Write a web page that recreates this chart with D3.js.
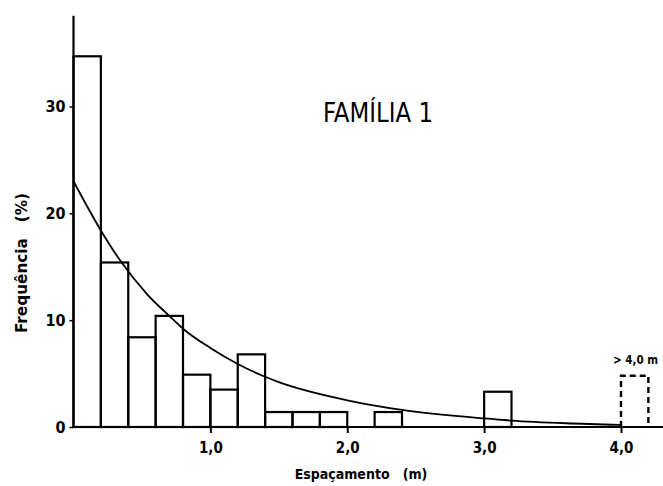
<!DOCTYPE html>
<html>
<head>
<meta charset="utf-8">
<script src="https://cdn.jsdelivr.net/npm/d3@7"></script>
<style>
  html, body { margin: 0; padding: 0; background: #fff; }
  svg { display: block; }
  text { fill: #000; }
</style>
</head>
<body>
<svg id="chart" width="663" height="486"></svg>
<script>
// ---- data ----
const binStarts = [0.0, 0.2, 0.4, 0.6, 0.8, 1.0, 1.2, 1.4, 1.6, 1.8, 2.0, 2.2, 2.4, 2.6, 2.8, 3.0, 3.2, 3.4, 3.6, 3.8];
const frequencies = [34.7, 15.4, 8.4, 10.4, 4.9, 3.5, 6.8, 1.4, 1.4, 1.4, 0, 1.4, 0, 0, 0, 3.3, 0, 0, 0, 0];
const binWidth = 0.2;
const overflowBin = { start: 4.0, value: 4.8, label: "> 4,0 m" };
const curveX = [0.0, 0.2, 0.34, 0.54, 0.7, 0.8, 1.0, 1.2, 1.4, 1.5, 2.0, 2.4, 3.0, 3.2, 3.6, 4.0];
const curveY = [23.0, 18.4, 15.6, 12.4, 10.4, 9.2, 7.4, 5.9, 4.7, 4.2, 2.5, 1.6, 0.8, 0.6, 0.35, 0.2];
const xTicks = [1.0, 2.0, 3.0, 4.0];
const xTickLabels = ["1,0", "2,0", "3,0", "4,0"];
const yTicks = [0, 10, 20, 30];
const yTickLabels = ["0", "10", "20", "30"];
const title = "FAMÍLIA 1";
const xLabel = "Espaçamento   (m)";
const yLabel = "Frequência   (%)";

// ---- scales ----
const svg = d3.select("#chart");
const x = d3.scaleLinear().domain([0, 4]).range([73.5, 621]);
const y = d3.scaleLinear().domain([0, 30]).range([427, 106.5]);
const FONT = "'DejaVu Sans Condensed', 'DejaVu Sans', sans-serif";

// ---- bars ----
const bars = binStarts.map((s, i) => ({ s, v: frequencies[i] })).filter(d => d.v > 0);
svg.append("g").selectAll("rect").data(bars).join("rect")
  .attr("x", d => x(d.s))
  .attr("y", d => y(d.v))
  .attr("width", d => x(d.s + binWidth) - x(d.s))
  .attr("height", d => y(0) - y(d.v))
  .attr("fill", "none")
  .attr("stroke", "#000")
  .attr("stroke-width", 2.2);

// overflow dashed bar (no bottom)
const ob = overflowBin;
svg.append("path")
  .attr("d", d3.line()([[x(ob.start), y(0)], [x(ob.start), y(ob.value)], [x(ob.start + binWidth), y(ob.value)], [x(ob.start + binWidth), y(0)]]))
  .attr("fill", "none")
  .attr("stroke", "#000")
  .attr("stroke-width", 2.4)
  .attr("stroke-dasharray", "6,4");
svg.append("text")
  .attr("x", x(ob.start) - 8)
  .attr("y", y(ob.value) - 12)
  .attr("font-family", FONT)
  .attr("font-weight", "bold")
  .attr("font-size", 13)
  .attr("textLength", 45)
  .attr("lengthAdjust", "spacingAndGlyphs")
  .style("white-space", "pre")
  .text(ob.label);

// ---- fitted curve ----
const pts = curveX.map((v, i) => [x(v), y(curveY[i])]);
svg.append("path")
  .attr("d", d3.line().curve(d3.curveMonotoneX)(pts))
  .attr("fill", "none")
  .attr("stroke", "#000")
  .attr("stroke-width", 1.8);

// ---- axes ----
const xAxis = d3.axisBottom(x).tickValues(xTicks).tickSize(6).tickFormat((d, i) => xTickLabels[i]);
const gx = svg.append("g").attr("transform", `translate(0,${y(0)})`).call(xAxis);
gx.select(".domain").remove();
gx.append("line").attr("x1", x(0)).attr("x2", 663).attr("y1", 0).attr("y2", 0)
  .attr("stroke", "#000").attr("stroke-width", 2.2);
gx.selectAll(".tick line").attr("stroke", "#000").attr("stroke-width", 2);
gx.selectAll(".tick text")
  .attr("font-family", FONT).attr("font-weight", "bold").attr("font-size", 15)
  .attr("fill", "#000").attr("dy", "1.1em");

const yAxis = d3.axisLeft(y).tickValues(yTicks).tickSize(4).tickFormat((d, i) => yTickLabels[i]);
const gy = svg.append("g").attr("transform", `translate(${x(0)},0)`).call(yAxis);
gy.select(".domain").remove();
gy.append("line").attr("x1", 0).attr("x2", 0).attr("y1", y(0)).attr("y2", y(38.5))
  .attr("stroke", "#000").attr("stroke-width", 2.2);
gy.selectAll(".tick line").attr("stroke", "#000").attr("stroke-width", 1.5);
gy.selectAll(".tick text")
  .attr("font-family", FONT).attr("font-weight", "bold").attr("font-size", 16)
  .attr("fill", "#000").attr("x", -8);

// ---- labels ----
svg.append("text")
  .attr("x", 378).attr("y", 122)
  .attr("text-anchor", "middle")
  .attr("font-family", FONT).attr("font-size", 27)
  .attr("textLength", 110)
  .attr("lengthAdjust", "spacingAndGlyphs")
  .text(title);

svg.append("text")
  .attr("x", 361).attr("y", 479)
  .attr("text-anchor", "middle")
  .attr("font-family", FONT).attr("font-weight", "bold").attr("font-size", 14)
  .style("white-space", "pre")
  .text(xLabel);

svg.append("text")
  .attr("transform", "translate(27,263) rotate(-90)")
  .attr("text-anchor", "middle")
  .attr("font-family", FONT).attr("font-weight", "bold").attr("font-size", 15)
  .attr("textLength", 140)
  .attr("lengthAdjust", "spacingAndGlyphs")
  .style("white-space", "pre")
  .text(yLabel);
</script>
</body>
</html>
